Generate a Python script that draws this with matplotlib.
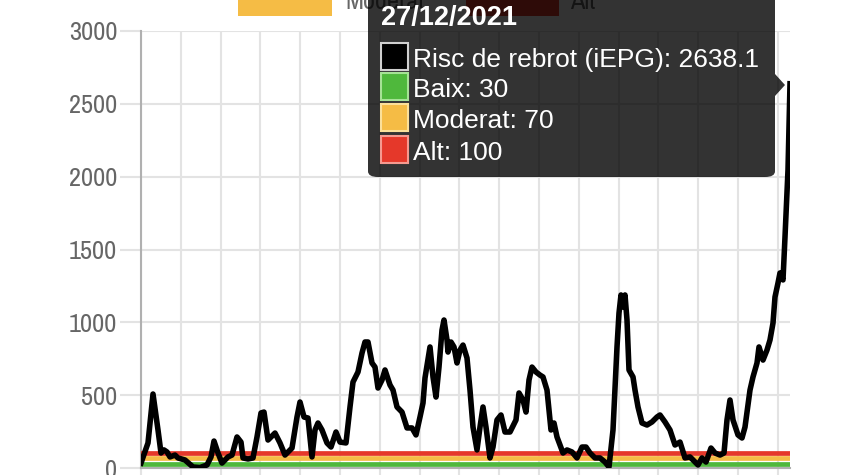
import matplotlib
matplotlib.use("Agg")
import matplotlib.pyplot as plt
from matplotlib import font_manager as fm
import numpy as np
from matplotlib.patches import FancyBboxPatch, Rectangle, Polygon

plt.rcParams['font.family'] = ['Liberation Sans', 'DejaVu Sans']

# axis labels in the reference are drawn in a narrow face; use one if installed
narrow_names = sorted({f.name for f in fm.fontManager.ttflist
                       if "Narrow" in f.name or "Condensed" in f.name})
if narrow_names:
    axis_font, axis_size = [narrow_names[0], 'Liberation Sans'], 19
else:
    axis_font, axis_size = ['Liberation Sans'], 16

# iEPG (risc de rebrot), day index from the start of the series
days = [0, 7, 12, 17, 20, 23, 26, 29, 34, 37, 44, 52, 59, 66, 70, 73, 77, 81, 87, 91,
        96, 100, 102, 107, 112, 116, 120, 123, 127, 134, 139, 144, 151, 156, 159, 163, 167, 171, 174, 177,
        181, 186, 190, 195, 199, 205, 209, 212, 217, 221, 224, 227, 231, 234, 237, 241, 244, 249, 252, 256,
        261, 266, 271, 275, 279, 282, 284, 289, 292, 295, 298, 301, 303, 306, 307, 310, 313, 316, 319, 322,
        326, 329, 332, 336, 339, 342, 345, 349, 352, 356, 360, 364, 369, 375, 378, 382, 385, 388, 391, 395,
        399, 402, 406, 410, 413, 416, 422, 426, 431, 436, 441, 445, 449, 454, 459, 464, 468, 472, 476, 478,
        480, 482, 484, 486, 488, 492, 494, 497, 501, 506, 511, 516, 519, 524, 529, 534, 539, 544, 549, 554,
        557, 561, 565, 570, 574, 579, 583, 586, 589, 592, 597, 601, 604, 609, 612, 616, 618, 622, 626, 629,
        632, 634, 637, 639, 642, 644, 647, 649]
iepg = [34, 172, 508, 261, 103, 124, 110, 76, 89, 69, 55, 7, 3, 21, 76, 185, 103, 34, 76, 89,
        213, 178, 69, 62, 69, 213, 378, 384, 192, 240, 172, 89, 137, 350, 453, 350, 343, 76, 261, 309,
        261, 172, 144, 247, 178, 172, 419, 590, 659, 789, 865, 865, 721, 693, 549, 604, 673, 570, 535, 419,
        384, 275, 275, 227, 350, 446, 618, 831, 625, 487, 693, 947, 1016, 879, 796, 865, 831, 721, 810, 844,
        755, 535, 281, 124, 281, 419, 281, 69, 144, 330, 364, 247, 247, 330, 515, 467, 384, 604, 693, 659,
        638, 625, 535, 261, 309, 213, 103, 124, 110, 69, 144, 144, 103, 69, 69, 41, 7, 261, 831, 1064,
        1188, 1105, 1188, 1016, 673, 625, 535, 419, 309, 295, 316, 350, 364, 316, 261, 158, 178, 69, 76, 41,
        21, 69, 41, 137, 103, 89, 103, 330, 467, 330, 227, 206, 281, 535, 625, 721, 831, 741, 810, 879,
        995, 1174, 1270, 1339, 1291, 1586, 2046, 2638.1]

levels = ["Baix", "Moderat", "Alt"]
level_values = [30, 70, 100]
level_colors = ["#4fb83c", "#f5bc45", "#e5382a"]
level_edges = ["#a6e296", "#fbe09a", "#f59a90"]

tooltip_title = "27/12/2021"
tooltip_lines = ["Risc de rebrot (iEPG): 2638.1"] + [f"{n}: {v}" for n, v in zip(levels, level_values)]
tooltip_fill = ["black"] + level_colors
tooltip_edge = ["#d0d0d0"] + level_edges

W, H = 844, 475
fig = plt.figure(figsize=(W / 100, H / 100), dpi=100)


def px(x, y):
    return (x / W, 1 - y / H)


ax = fig.add_axes([141 / W, 7 / H, 649 / W, 437 / H])

ax.plot(days, iepg, color="black", lw=4.0, zorder=5, solid_joinstyle="round")
for val, col in zip(level_values[::-1], level_colors[::-1]):
    ax.plot([days[0], days[-1]], [val, val], color=col, lw=3.4, zorder=3)

ax.set_xlim(0, 649)
ax.set_ylim(0, 3000)
ax.set_yticks(np.arange(0, 3001, 500))
ax.set_xticks(np.arange(0, 649, 39.8))
ax.grid(True, color="#e3e3e3", lw=1.5)
ax.set_axisbelow(True)
ax.tick_params(axis="y", length=15, width=1.5, color="#e3e3e3", pad=2,
               labelsize=axis_size, labelcolor="#666666")
ax.tick_params(axis="x", length=10, width=1.5, color="#e3e3e3", labelbottom=False)
for lab in ax.get_yticklabels():
    lab.set_family(axis_font)
for s in ["top", "right"]:
    ax.spines[s].set_visible(False)
for s in ["left", "bottom"]:
    ax.spines[s].set_color("#b0b0b0")
    ax.spines[s].set_linewidth(1.5)

# legend row, mostly cut off at the top
x0, y0 = px(238, 16)
fig.add_artist(Rectangle((x0, y0), 94 / W, 24 / H, transform=fig.transFigure,
                         facecolor=level_colors[1], edgecolor="none", zorder=2))
fig.text(*px(345, 9), "Moderat", fontsize=axis_size, family=axis_font, color="#666666", zorder=2)
x0, y0 = px(466, 16)
fig.add_artist(Rectangle((x0, y0), 93 / W, 24 / H, transform=fig.transFigure,
                         facecolor=level_colors[2], edgecolor="none", zorder=2))
fig.text(*px(570, 9), "Alt", fontsize=axis_size, family=axis_font, color="#666666", zorder=2)

# tooltip
bx, by = px(368, 177)
fig.add_artist(FancyBboxPatch((bx, by), (775 - 368) / W, (177 + 20) / H,
                              boxstyle="round,pad=0,rounding_size=0.012",
                              transform=fig.transFigure, facecolor=(0, 0, 0, 0.8),
                              edgecolor="none", zorder=20))
fig.add_artist(Polygon([px(775, 74), px(785, 85), px(775, 96)], closed=True,
                       transform=fig.transFigure, facecolor=(0, 0, 0, 0.8),
                       edgecolor="none", zorder=20))
fig.text(*px(381, 25), tooltip_title, fontsize=19.5, fontweight="bold", color="white", zorder=21)
baselines = [67, 97, 128, 160]
for txt, fc, ec, b in zip(tooltip_lines, tooltip_fill, tooltip_edge, baselines):
    rx, ry = px(381, b + 3)
    fig.add_artist(Rectangle((rx, ry), 27 / W, 27 / H, transform=fig.transFigure,
                             facecolor=fc, edgecolor=ec, lw=1.5, zorder=21))
    fig.text(*px(413, b), txt, fontsize=19, color="white", zorder=21)

fig.savefig("out.png", dpi=100)
